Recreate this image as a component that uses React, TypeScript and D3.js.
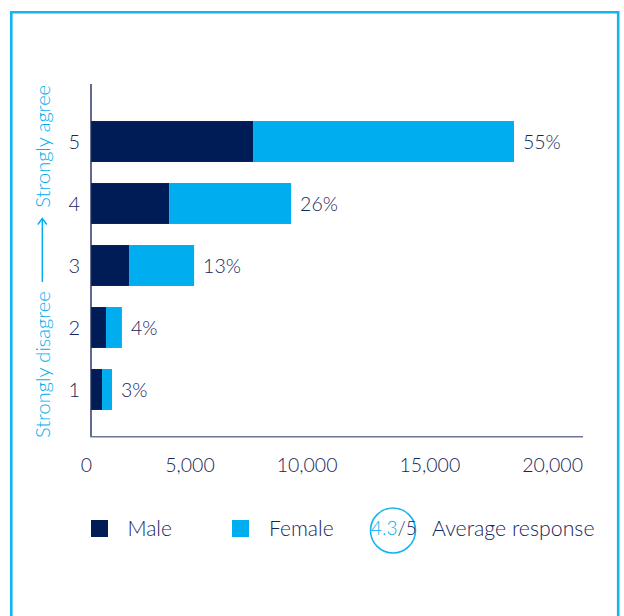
import React from "react";
import * as d3 from "d3";

const categories = ["5", "4", "3", "2", "1"];
const maleValues = [6600, 3180, 1550, 610, 450];
const femaleValues = [10630, 4970, 2650, 650, 405];
const percentLabels = ["55%", "26%", "13%", "4%", "3%"];
const xTicks = [0, 5000, 10000, 15000, 20000];
const legendItems = ["Male", "Female"];
const averageScore = "4.3";
const averageMax = "/5";
const averageLabel = "Average response";
const axisTitleLow = "Strongly disagree";
const axisTitleHigh = "Strongly agree";

const NAVY = "#001c57";
const CYAN = "#00aeef";
const TEXT = "#18255a";
const FONT = "Lato, 'Open Sans', sans-serif";
const WEIGHT = 300;

export default function App() {
  const W = 624;
  const H = 616;
  const x = d3.scaleLinear().domain([0, 20000]).range([91, 582]);
  const y = d3
    .scaleBand<string>()
    .domain(categories)
    .range([110.5, 420.5])
    .paddingInner(0.34)
    .paddingOuter(0.17);
  const bw = y.bandwidth();
  const fmt = d3.format(",");

  return (
    <svg
      width={W}
      height={H}
      style={{ position: "absolute", left: 0, top: 0, display: "block" }}
      fontFamily={FONT}
      fontWeight={WEIGHT}
    >
      <rect x={0} y={0} width={W} height={H} fill="#fff" />
      {/* frame */}
      <path
        d={`M11.3,${H + 5} L11.3,12.2 L618.2,12.2 L618.2,${H + 5}`}
        fill="none"
        stroke="#14b4f0"
        strokeWidth={2.6}
      />

      {/* bars */}
      {categories.map((c, i) => {
        const y0 = y(c)!;
        const m = maleValues[i];
        const f = femaleValues[i];
        return (
          <g key={c}>
            <rect x={x(0)} y={y0} width={x(m) - x(0)} height={bw} fill={NAVY} />
            <rect x={x(m)} y={y0} width={x(m + f) - x(m)} height={bw} fill={CYAN} />
            <text
              x={x(m + f) + 9}
              y={y0 + bw / 2}
              dy="0.36em"
              fontSize={19.5}
              fill={TEXT}
            >
              {percentLabels[i]}
            </text>
            <text
              x={80}
              y={y0 + bw / 2}
              dy="0.36em"
              fontSize={20}
              fill={TEXT}
              textAnchor="end"
            >
              {c}
            </text>
          </g>
        );
      })}

      {/* axes */}
      <line x1={91} y1={84} x2={91} y2={436.8} stroke="#1f2c5e" strokeWidth={1.4} />
      <line x1={90.3} y1={436.8} x2={x(20000) + 1} y2={436.8} stroke="#6b7699" strokeWidth={1.5} />
      {xTicks.map((t) => (
        <text
          key={t}
          x={x(t) + 1}
          y={464.5}
          dy="0.36em"
          fontSize={19.5}
          fill={TEXT}
          textAnchor="end"
        >
          {fmt(t)}
        </text>
      ))}

      {/* rotated axis title */}
      <g fill={CYAN} fontSize={20}>
        <text transform="translate(50,438) rotate(-90)" textAnchor="start">
          {axisTitleLow}
        </text>
        <text transform="translate(50,85) rotate(-90)" textAnchor="end">
          {axisTitleHigh}
        </text>
        <line x1={42.3} y1={282} x2={42.3} y2={219} stroke={CYAN} strokeWidth={1.4} />
        <path d="M37.8,224.5 L42.3,218.5 L46.8,224.5" fill="none" stroke={CYAN} strokeWidth={1.4} />
      </g>

      {/* legend */}
      <rect x={91} y={520} width={17} height={17} fill={NAVY} />
      <text x={127.5} y={528.5} dy="0.36em" fontSize={21} fill={TEXT}>
        {legendItems[0]}
      </text>
      <rect x={232} y={520} width={17} height={17} fill={CYAN} />
      <text x={269} y={528.5} dy="0.36em" fontSize={21} fill={TEXT}>
        {legendItems[1]}
      </text>
      <circle cx={393} cy={530.5} r={22.5} fill="none" stroke="#14b4f0" strokeWidth={1.6} />
      <text x={371} y={528.5} dy="0.36em" fontSize={19} fill={TEXT}>
        <tspan fill={CYAN}>{averageScore}</tspan>
        <tspan>{averageMax}</tspan>
      </text>
      <text x={432} y={528.5} dy="0.36em" fontSize={21.3} fill={TEXT}>
        {averageLabel}
      </text>
    </svg>
  );
}
